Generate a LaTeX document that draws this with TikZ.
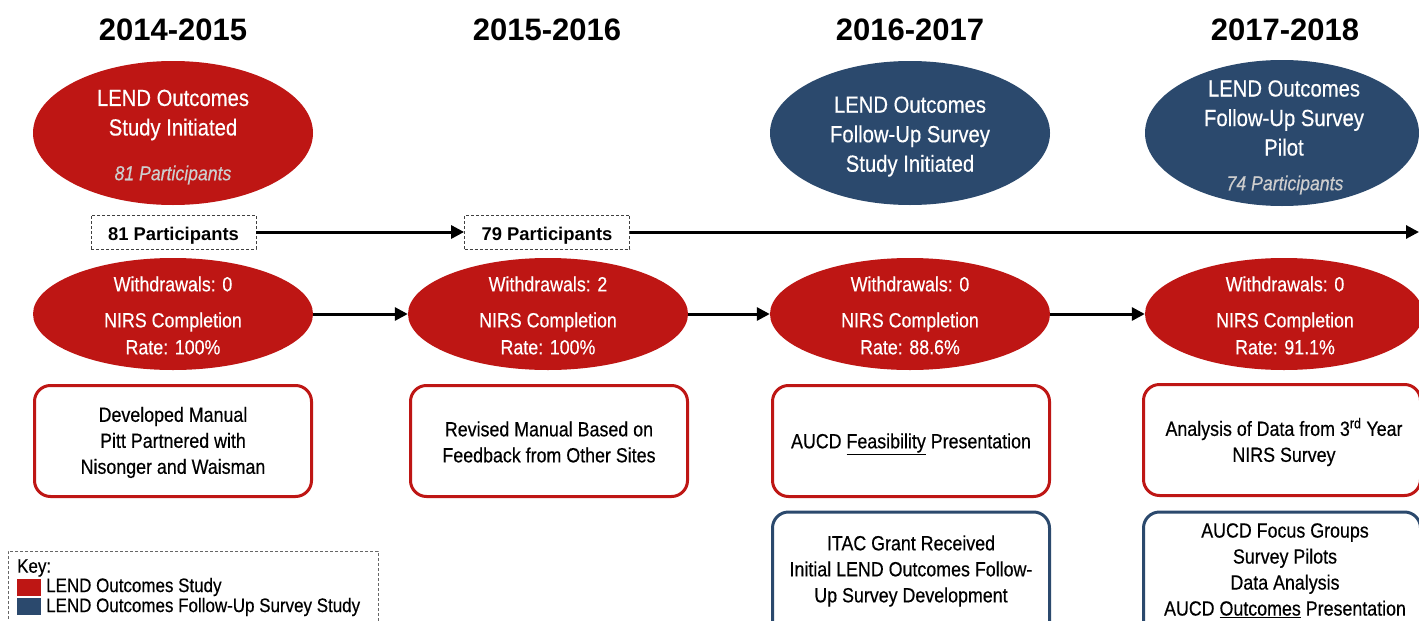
\documentclass[tikz,border=0pt]{standalone}
\usepackage{fontspec}
\setmainfont{Liberation Sans}
\newfontfamily\narrowsans{Liberation Sans}[FakeStretch=0.87,FakeBold=0.4]
\usetikzlibrary{shapes.geometric,arrows.meta}
\definecolor{lendred}{RGB}{190,22,20}
\definecolor{lendblue}{RGB}{43,73,109}
\definecolor{partgray}{RGB}{205,205,205}
\tikzset{
  yearlbl/.style={font=\fontsize{31}{36}\selectfont\bfseries},
  ovalshape/.style={ellipse,inner sep=0pt,draw=none},
  redoval/.style={ovalshape,fill=lendred},
  blueoval/.style={ovalshape,fill=lendblue},
  ovaltop/.style={align=center,text=white,font=\narrowsans\fontsize{23.3}{29.5}\selectfont},
  ovallow/.style={align=center,text=white,font=\narrowsans\fontsize{20.5}{27}\selectfont},
  partlbl/.style={text=partgray,font=\narrowsans\itshape\fontsize{20.3}{24}\selectfont},
  countbox/.style={draw=black!75,dash pattern=on 3pt off 2pt,line width=0.8pt,fill=white,
    minimum width=165pt,minimum height=34pt,inner sep=0pt,text height=17pt,text depth=0pt,
    font=\fontsize{18.4}{22}\selectfont\bfseries},
  eventbox/.style={rectangle,rounded corners=16pt,line width=3pt,fill=white,
    minimum width=277pt,minimum height=111pt,inner sep=0pt},
  redbox/.style={eventbox,draw=lendred},
  bluebox/.style={eventbox,draw=lendblue},
  boxtext/.style={align=center,font=\narrowsans\fontsize{20.5}{26}\selectfont},
  flow/.style={line width=3pt,-{Triangle[length=13pt,width=13pt]}},
  keytext/.style={anchor=west,inner sep=0pt,font=\narrowsans\fontsize{19.5}{22}\selectfont},
}
\begin{document}
\begin{tikzpicture}[x=1pt,y=-1pt]
\useasboundingbox (0,0) rectangle (1419,621);
\fill[white] (0,0) rectangle (1419,621);

% year headings
\node[yearlbl] (y1) at (173,30) {2014-2015};
\node[yearlbl] (y2) at (547,30) {2015-2016};
\node[yearlbl] (y3) at (910,30) {2016-2017};
\node[yearlbl] (y4) at (1285,30) {2017-2018};

% study milestones
\node[redoval,minimum width=280pt,minimum height=144pt] (m1) at (173,133) {};
\node[ovaltop] (m1t) at (173,115) {LEND Outcomes\\Study Initiated};
\node[partlbl] (m1p) at (173,175) {81 Participants};

\node[blueoval,minimum width=280pt,minimum height=144pt] (m3) at (910,133) {};
\node[ovaltop] (m3t) at (910,136.5) {LEND Outcomes\\Follow-Up Survey\\Study Initiated};

\node[blueoval,minimum width=274pt,minimum height=146pt] (m4) at (1282,133) {};
\node[ovaltop] (m4t) at (1284,118) {LEND Outcomes\\Follow-Up Survey\\Pilot};
\node[partlbl] (m4p) at (1285,185) {74 Participants};

% participant timeline
\node[countbox] (c1) at (173.5,232) {81 Participants};
\node[countbox] (c2) at (547,232) {79 Participants};
\coordinate (tlend) at (1419,232);
\draw[flow] (c1.east) -- (c2.west);
\draw[flow] (c2.east) -- (tlend);

% yearly completion
\node[redoval,minimum width=280pt,minimum height=112pt] (r1) at (173,314) {};
\node[redoval,minimum width=280pt,minimum height=112pt] (r2) at (548,314) {};
\node[redoval,minimum width=280pt,minimum height=112pt] (r3) at (910,314) {};
\node[redoval,minimum width=278pt,minimum height=112pt] (r4) at (1284,314) {};
\draw[flow] (r1.east) -- (r2.west);
\draw[flow] (r2.east) -- (r3.west);
\draw[flow] (r3.east) -- (r4.west);

\node[ovallow] (r1a) at (173,284) {Withdrawals: 0};
\node[ovallow] (r1b) at (173,333.5) {NIRS Completion\\Rate: 100\%};
\node[ovallow] (r2a) at (548,284) {Withdrawals: 2};
\node[ovallow] (r2b) at (548,333.5) {NIRS Completion\\Rate: 100\%};
\node[ovallow] (r3a) at (910,284) {Withdrawals: 0};
\node[ovallow] (r3b) at (910,333.5) {NIRS Completion\\Rate: 88.6\%};
\node[ovallow] (r4a) at (1285,284) {Withdrawals: 0};
\node[ovallow] (r4b) at (1285,333.5) {NIRS Completion\\Rate: 91.1\%};

% activities
\node[redbox] (a1) at (173,441) {};
\node[boxtext] (a1t) at (173,442.5) {Developed Manual\\Pitt Partnered with\\Nisonger and Waisman};
\node[redbox] (a2) at (549,441) {};
\node[boxtext] (a2t) at (549,442) {Revised Manual Based on\\Feedback from Other Sites};
\node[redbox] (a3) at (911,441) {};
\node[boxtext] (a3t) at (911,444) {AUCD \underline{Feasibility} Presentation};
\node[redbox] (a4) at (1282,440) {};
\node[boxtext] (a4t) at (1284,442) {Analysis of Data from 3\textsuperscript{rd} Year\\NIRS Survey};

\node[bluebox,minimum height=140pt] (b3) at (911,582) {};
\node[boxtext] (b3t) at (911,571) {ITAC Grant Received\\Initial LEND Outcomes Follow-\\Up Survey Development};
\node[bluebox,minimum height=140pt] (b4) at (1282,582) {};
\node[boxtext] (b4t) at (1285,570.5) {AUCD Focus Groups\\Survey Pilots\\Data Analysis\\AUCD \underline{Outcomes} Presentation};

% key
\node[draw=black!60,dash pattern=on 3pt off 2pt,line width=0.8pt,fill=white,
  minimum width=370pt,minimum height=90pt,inner sep=0pt] (key) at (193,596) {};
\node[keytext] (kt) at (17,568) {Key:};
\node[fill=lendred,minimum width=24pt,minimum height=17pt,inner sep=0pt] (ks1) at (29,587) {};
\node[keytext] (kt1) at (46,587) {LEND Outcomes Study};
\node[fill=lendblue,minimum width=24pt,minimum height=17pt,inner sep=0pt] (ks2) at (29,606) {};
\node[keytext] (kt2) at (46,607) {LEND Outcomes Follow-Up Survey Study};
\end{tikzpicture}
\end{document}
